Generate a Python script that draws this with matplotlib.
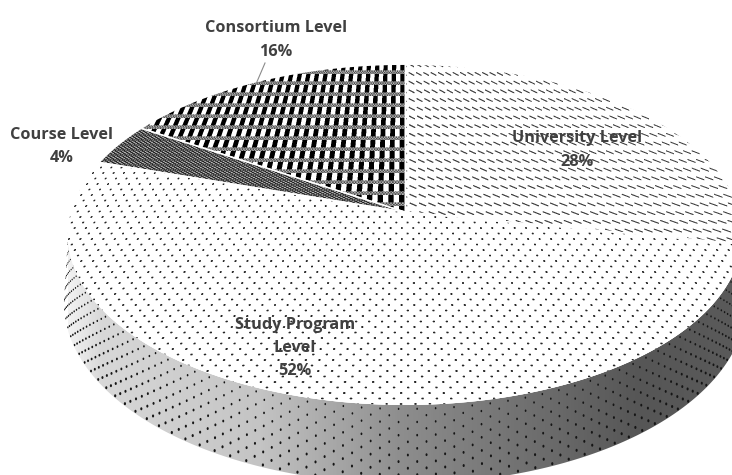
import numpy as np
import matplotlib
matplotlib.use("Agg")
import matplotlib.pyplot as plt
from matplotlib.patches import Polygon
from matplotlib.colors import LinearSegmentedColormap

# Survey shares, clockwise from twelve o'clock
categories = ["University Level", "Study Program\nLevel", "Course Level", "Consortium Level"]
shares = [28, 52, 4, 16]
share_labels = ["28%", "52%", "4%", "16%"]

W, H = 732, 475
CX, CY = 405.0, 212.0
RX, RY, PERSP = 334.0, 166.9, 0.135
DROP, RX_LOW, RY_LOW = 66.0, 338.0, 178.0


def project(theta, rx=RX, ry=RY, cy=CY):
    """Map a clockwise angle on the disc to pixel coordinates under perspective."""
    u, v = np.sin(theta), np.cos(theta)
    w = 1 + PERSP * v
    return CX + rx * u / w, cy - ry * v / w


def surface_coords(ss=3):
    """Supersampled pixel grid, with columns converging toward the far edge."""
    ys, xs = np.mgrid[0:H * ss, 0:W * ss]
    xs = (xs + 0.5) / ss
    ys = (ys + 0.5) / ss
    xs = CX + (xs - CX) / (1 + 2 * PERSP / RY * (ys - CY))
    return xs, ys


def downsample(img, ss=3):
    return img.reshape(H, ss, W, ss).mean(axis=(1, 3))


def dots_pattern(x, y):
    px, py = 11.0, 11.0
    a = np.hypot((x + 5) % px - px / 2, (y + 3) % py - py / 2)
    b = np.hypot((x + 5 + px / 2) % px - px / 2, (y + 3 + py / 2) % py - py / 2)
    return np.where(np.minimum(a, b) < 1.0, 0.15, 1.0)


def dash_pattern(x, y):
    px, py = 9.5, 8.7
    fx = (x % px) - px / 2
    fy = (y % py) - py / 2
    t = np.clip(fx / 3.0, -1, 1)
    d = np.hypot(fx - 3.0 * t, fy - 1.3 * t)
    return np.where(d < 0.7, 0.25, 1.0)


def weave_pattern(x, y):
    px, py = 11.0, 11.0
    fx = (x + 8) % px
    fy = (y + 3) % py
    img = np.where(fx < px / 2, 0.0, 1.0)
    band = fy >= 7.2
    dither = np.where(((np.floor(x / 1.5) + np.floor(y / 1.5)) % 2) == 0, 0.3, 0.7)
    return np.where(band, dither, img)


def mesh_pattern(x, y):
    a = np.abs(((x + 2 * y) % 5.0) - 2.5) < 0.9
    b = np.abs(((x - 2 * y) % 5.0) - 2.5) < 0.9
    return np.where(a | b, 0.12, 0.72)


fig = plt.figure(figsize=(W / 100, H / 100), dpi=100)
ax = fig.add_axes([0, 0, 1, 1])
ax.set_xlim(0, W)
ax.set_ylim(H, 0)
ax.axis("off")

# Side wall with left-to-right shading
front = np.linspace(np.arccos(-PERSP), 2 * np.pi - np.arccos(-PERSP), 500)
rim_x, rim_y = project(front)
low_x, low_y = project(front, RX_LOW, RY_LOW, CY + DROP)
wall = Polygon(np.r_[np.c_[rim_x, rim_y], np.c_[low_x, low_y][::-1]],
               closed=True, fc="none", ec="none")
ax.add_patch(wall)
stops = [(68, "#f2f2f2"), (100, "#d8d8d8"), (260, "#c4c4c4"), (400, "#8e8e8e"),
         (520, "#727272"), (640, "#565656"), (732, "#5a5a5a")]
shade = LinearSegmentedColormap.from_list(
    "wall", [((x - 68) / (732 - 68), c) for x, c in stops])
grad = ax.imshow(np.linspace(0, 1, 700)[None, :], extent=(68, 732, H, 0),
                 cmap=shade, vmin=0, vmax=1, aspect="auto", zorder=1)
grad.set_clip_path(wall)

# Staggered dot rows on the wall, growing toward the base and shrinking at the edges
wx, wy, ws = [], [], []
for j, h in enumerate(np.linspace(0.05, 0.97, 12)):
    offs = 0.024 * (j % 2)
    th = np.arange(front[0] + 0.06 + offs, front[-1], 0.048)
    xa, ya = project(th)
    xb, yb = project(th, RX_LOW, RY_LOW, CY + DROP)
    edge_fade = np.clip(np.abs(np.cos(th)) * 1.6, 0.12, 1)
    wx.append(xa + (xb - xa) * h)
    wy.append(ya + (yb - ya) * h)
    ws.append((2.6 + 2.6 * h) * edge_fade)
marker = np.c_[0.72 * np.cos(np.linspace(0, 2 * np.pi, 12)), np.sin(np.linspace(0, 2 * np.pi, 12))]
dots = ax.scatter(np.concatenate(wx), np.concatenate(wy), s=np.concatenate(ws), c="#151515",
                  marker=marker, linewidths=0, zorder=2)
dots.set_clip_path(wall)

# Disc slices, each filled with its own pattern
surf_x, surf_y = surface_coords()
patterns = [dash_pattern, dots_pattern, mesh_pattern, weave_pattern]
edges = np.r_[0, np.cumsum(shares)] / np.sum(shares) * 2 * np.pi
for start, stop, pattern in zip(edges[:-1], edges[1:], patterns):
    th = np.linspace(start, stop, 300)
    px, py = project(th)
    wedge = Polygon(np.r_[[[CX, CY]], np.c_[px, py]], closed=True, fc="white", ec="none", zorder=3)
    ax.add_patch(wedge)
    tex = downsample(pattern(surf_x, surf_y))
    im = ax.imshow(tex, cmap="gray", vmin=0, vmax=1, interpolation="nearest", aspect="auto", zorder=4,
                   extent=(0, W, H, 0))
    im.set_clip_path(wedge)
    ax.plot([CX, px[0]], [CY, py[0]], color="white", lw=1.0, zorder=5)
    ax.plot([CX, px[-1]], [CY, py[-1]], color="white", lw=1.0, zorder=5)
ax.set_xlim(0, W)
ax.set_ylim(H, 0)

# Slice labels and the single leader line
label_pos = [(577, 150), (295, 348), (62, 146.5), (276, 40)]
for name, pct, (lx, ly) in zip(categories, share_labels, label_pos):
    ax.text(lx, ly, f"{name}\n{pct}", ha="center", va="center", family="Open Sans",
            fontweight="bold", fontsize=11.7, color="#404040", linespacing=1.62, zorder=6)
ax.plot([265, 256], [63, 84], color="#8a8a8a", lw=0.8, zorder=6)

fig.savefig("out.png", dpi=100)
